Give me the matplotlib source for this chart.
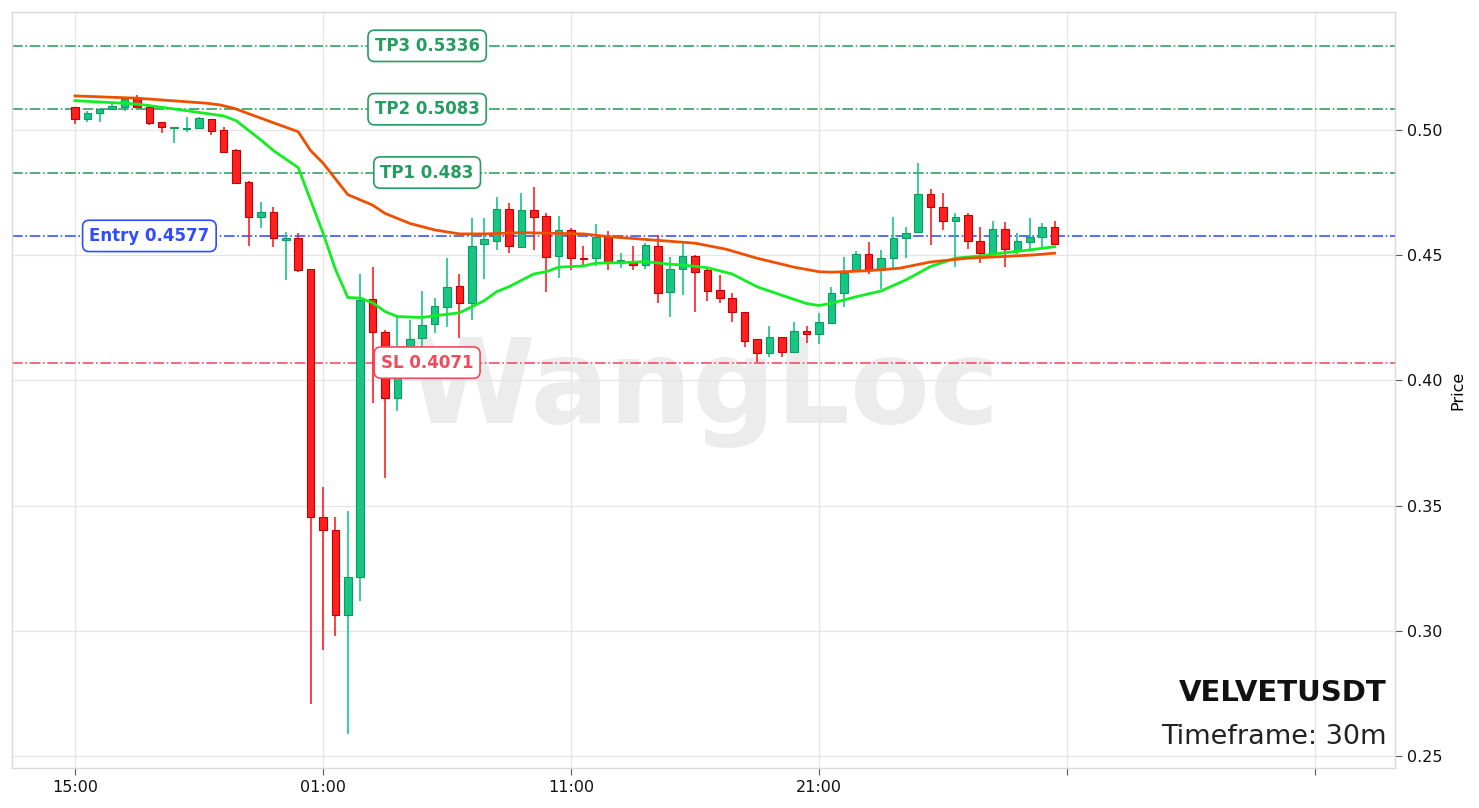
import numpy as np
import pandas as pd
import matplotlib
matplotlib.use("Agg")
import matplotlib.pyplot as plt

SYMBOL = "VELVETUSDT"
TIMEFRAME = "30m"

# OHLC (30m candles starting 15:00)
opens = [0.5091, 0.5043, 0.5067, 0.5083, 0.5093, 0.5127, 0.5091, 0.5032, 0.5009, 0.5003,
         0.5008, 0.5043, 0.5000, 0.4920, 0.4792, 0.4654, 0.4671, 0.4562, 0.4569, 0.4444,
         0.3455, 0.3402, 0.3063, 0.3216, 0.4325, 0.4194, 0.3929, 0.4050, 0.4168, 0.4224,
         0.4295, 0.4377, 0.4308, 0.4543, 0.4558, 0.4683, 0.4534, 0.4681, 0.4657, 0.4497,
         0.4601, 0.4490, 0.4490, 0.4574, 0.4475, 0.4477, 0.4460, 0.4537, 0.4354, 0.4443,
         0.4497, 0.4441, 0.4361, 0.4328, 0.4272, 0.4164, 0.4111, 0.4172, 0.4115, 0.4199,
         0.4184, 0.4230, 0.4348, 0.4441, 0.4504, 0.4441, 0.4488, 0.4567, 0.4591, 0.4743,
         0.4694, 0.4635, 0.4659, 0.4557, 0.4505, 0.4606, 0.4518, 0.4554, 0.4571, 0.4611]
highs = [0.5093, 0.5077, 0.5088, 0.5107, 0.5127, 0.5139, 0.5099, 0.5032, 0.5013, 0.5053,
         0.5050, 0.5045, 0.5013, 0.4924, 0.4797, 0.4712, 0.4694, 0.4593, 0.4589, 0.4446,
         0.3573, 0.3454, 0.3478, 0.4425, 0.4452, 0.4200, 0.4254, 0.4241, 0.4358, 0.4330,
         0.4487, 0.4424, 0.4647, 0.4647, 0.4734, 0.4707, 0.4750, 0.4771, 0.4667, 0.4657,
         0.4610, 0.4537, 0.4623, 0.4598, 0.4508, 0.4537, 0.4547, 0.4581, 0.4494, 0.4547,
         0.4501, 0.4448, 0.4421, 0.4348, 0.4272, 0.4164, 0.4219, 0.4175, 0.4232, 0.4217,
         0.4268, 0.4374, 0.4494, 0.4515, 0.4554, 0.4521, 0.4654, 0.4614, 0.4867, 0.4763,
         0.4747, 0.4670, 0.4670, 0.4614, 0.4638, 0.4634, 0.4587, 0.4650, 0.4630, 0.4638]
lows = [0.5024, 0.5032, 0.5032, 0.5080, 0.5077, 0.5088, 0.5021, 0.4987, 0.4947, 0.4992,
        0.5005, 0.4979, 0.4909, 0.4783, 0.4537, 0.4607, 0.4534, 0.4401, 0.4432, 0.2709,
        0.2923, 0.2980, 0.2587, 0.3119, 0.3909, 0.3612, 0.3878, 0.4020, 0.4135, 0.4190,
        0.4215, 0.4168, 0.4241, 0.4405, 0.4521, 0.4508, 0.4534, 0.4521, 0.4354, 0.4408,
        0.4440, 0.4457, 0.4457, 0.4441, 0.4448, 0.4441, 0.4444, 0.4310, 0.4254, 0.4341,
        0.4272, 0.4318, 0.4308, 0.4232, 0.4132, 0.4075, 0.4095, 0.4095, 0.4115, 0.4148,
        0.4144, 0.4225, 0.4294, 0.4441, 0.4425, 0.4364, 0.4448, 0.4488, 0.4589, 0.4541,
        0.4601, 0.4454, 0.4524, 0.4468, 0.4505, 0.4452, 0.4505, 0.4521, 0.4532, 0.4545]
closes = [0.5043, 0.5067, 0.5085, 0.5096, 0.5123, 0.5091, 0.5029, 0.5011, 0.5012, 0.5008,
          0.5048, 0.4997, 0.4913, 0.4790, 0.4651, 0.4671, 0.4567, 0.4567, 0.4441, 0.3455,
          0.3402, 0.3063, 0.3216, 0.4323, 0.4194, 0.3929, 0.4050, 0.4167, 0.4221, 0.4297,
          0.4374, 0.4308, 0.4537, 0.4565, 0.4683, 0.4537, 0.4681, 0.4654, 0.4494, 0.4600,
          0.4488, 0.4486, 0.4571, 0.4474, 0.4479, 0.4460, 0.4540, 0.4350, 0.4445, 0.4497,
          0.4434, 0.4358, 0.4328, 0.4272, 0.4159, 0.4111, 0.4172, 0.4115, 0.4199, 0.4185,
          0.4232, 0.4348, 0.4428, 0.4504, 0.4444, 0.4488, 0.4567, 0.4587, 0.4743, 0.4694,
          0.4635, 0.4654, 0.4557, 0.4508, 0.4606, 0.4524, 0.4557, 0.4571, 0.4611, 0.4545]

# moving averages, read at candle positions
ema_fast_x = [0, 5, 9, 12, 13, 15, 16, 18, 20, 21, 22, 23, 24, 25, 26, 28, 29, 31, 33, 34,
              35, 37, 38, 39, 41, 42, 44, 46, 48, 49, 51, 53, 55, 57, 59, 60, 61, 63, 65, 67,
              69, 71, 73, 75, 77, 79]
ema_fast = [0.5117, 0.5104, 0.5077, 0.5056, 0.5037, 0.4960, 0.4918, 0.4850, 0.4589, 0.4444,
            0.4331, 0.4329, 0.4310, 0.4275, 0.4255, 0.4251, 0.4258, 0.4270, 0.4318, 0.4354,
            0.4374, 0.4425, 0.4434, 0.4452, 0.4457, 0.4468, 0.4470, 0.4474, 0.4464, 0.4461,
            0.4450, 0.4425, 0.4374, 0.4340, 0.4307, 0.4299, 0.4308, 0.4334, 0.4357, 0.4401,
            0.4455, 0.4488, 0.4497, 0.4510, 0.4521, 0.4534]
ema_slow_x = [0, 5, 10.6, 11.7, 12.8, 15, 18, 19, 20, 22, 24, 25, 27, 29, 31, 33, 36, 39,
              41, 43, 46, 50, 52.5, 55, 58, 60, 61, 64, 66.5, 69, 72, 74.6, 77.3, 79]
ema_slow = [0.5136, 0.5127, 0.5107, 0.5100, 0.5087, 0.5047, 0.4993, 0.4918, 0.4868, 0.4742,
            0.4700, 0.4667, 0.4627, 0.4601, 0.4585, 0.4585, 0.4590, 0.4587, 0.4585, 0.4574,
            0.4563, 0.4548, 0.4524, 0.4488, 0.4452, 0.4434, 0.4432, 0.4438, 0.4448, 0.4473,
            0.4488, 0.4494, 0.4501, 0.4508]

# trade levels
level_names = ["TP3", "TP2", "TP1", "Entry", "SL"]
level_values = [0.5336, 0.5083, 0.483, 0.4577, 0.4071]
level_colors = ["#269c60", "#269c60", "#269c60", "#2f4cff", "#f2495c"]
level_label_x = [28.4, 28.4, 28.4, 6.0, 28.4]

UP = "#16c784"
UP_EDGE = "#0e9a62"
DOWN = "#ff2020"
DOWN_EDGE = "#c40000"


def main():
    times = pd.date_range("2024-01-01 15:00", periods=len(closes), freq="30min")
    x = np.arange(len(closes))

    fig = plt.figure(figsize=(14.79, 8.08), dpi=100)
    ax = fig.add_axes([0.0081, 0.0495, 0.9351, 0.9356])
    ax.set_facecolor("white")

    # watermark
    ax.text(0.5, 0.5, "WangLoc", transform=ax.transAxes, fontsize=84,
            fontweight="bold", color="#ececec", ha="center", va="center", zorder=0)

    # levels
    for name, val, col, lx in zip(level_names, level_values, level_colors, level_label_x):
        ax.axhline(val, color=col, linestyle="-.", linewidth=1.2, alpha=0.95, zorder=2)
        ax.text(lx, val, f"{name} {val:g}", color=col, fontsize=12, fontweight="bold",
                ha="center", va="center", zorder=6,
                bbox=dict(boxstyle="round,pad=0.4", facecolor="white", edgecolor=col, linewidth=1.2))

    # candles
    width = 0.6
    for i in range(len(closes)):
        o, h, l, c = opens[i], highs[i], lows[i], closes[i]
        up = c >= o
        col = UP if up else DOWN
        edge = UP_EDGE if up else DOWN_EDGE
        ax.vlines(x[i], l, h, color=col, linewidth=1.2, zorder=3)
        bottom = min(o, c)
        height = max(abs(c - o), 0.0004)
        ax.add_patch(plt.Rectangle((x[i] - width / 2, bottom), width, height,
                                   facecolor=col, edgecolor=edge, linewidth=0.8, zorder=4))

    ax.plot(ema_fast_x, ema_fast, color="#11ee22", linewidth=2, zorder=5)
    ax.plot(ema_slow_x, ema_slow, color="#ee5000", linewidth=2, zorder=5)

    ax.set_xlim(-5.08, 106.45)
    ax.set_ylim(0.2452, 0.5471)

    ticks = list(range(0, 101, 20))
    labels = [times[t].strftime("%H:%M") if t < len(times) else "" for t in ticks]
    ax.set_xticks(ticks)
    ax.set_xticklabels(labels, fontsize=11.5)
    ax.set_yticks([0.25, 0.30, 0.35, 0.40, 0.45, 0.50])
    ax.set_yticklabels(["0.25", "0.30", "0.35", "0.40", "0.45", "0.50"], fontsize=11.5)
    ax.yaxis.tick_right()
    ax.yaxis.set_label_position("right")
    ax.set_ylabel("Price", fontsize=11.5, labelpad=6)
    ax.tick_params(axis="both", colors="#111111", length=5, width=0.8, color="#555555")

    ax.grid(True, color="#e5e5e5", linewidth=0.9, zorder=0)
    ax.set_axisbelow(True)
    for s in ax.spines.values():
        s.set_color("#d9d9d9")
        s.set_linewidth(1)

    ax.text(0.9942, 0.099, SYMBOL, transform=ax.transAxes, fontsize=21,
            fontweight="bold", color="#111111", ha="right", va="center", zorder=7)
    ax.text(0.9942, 0.041, f"Timeframe: {TIMEFRAME}", transform=ax.transAxes,
            fontsize=19.5, color="#222222", ha="right", va="center", zorder=7)

    fig.savefig("out.png", dpi=100, facecolor="white")


if __name__ == "__main__":
    main()
